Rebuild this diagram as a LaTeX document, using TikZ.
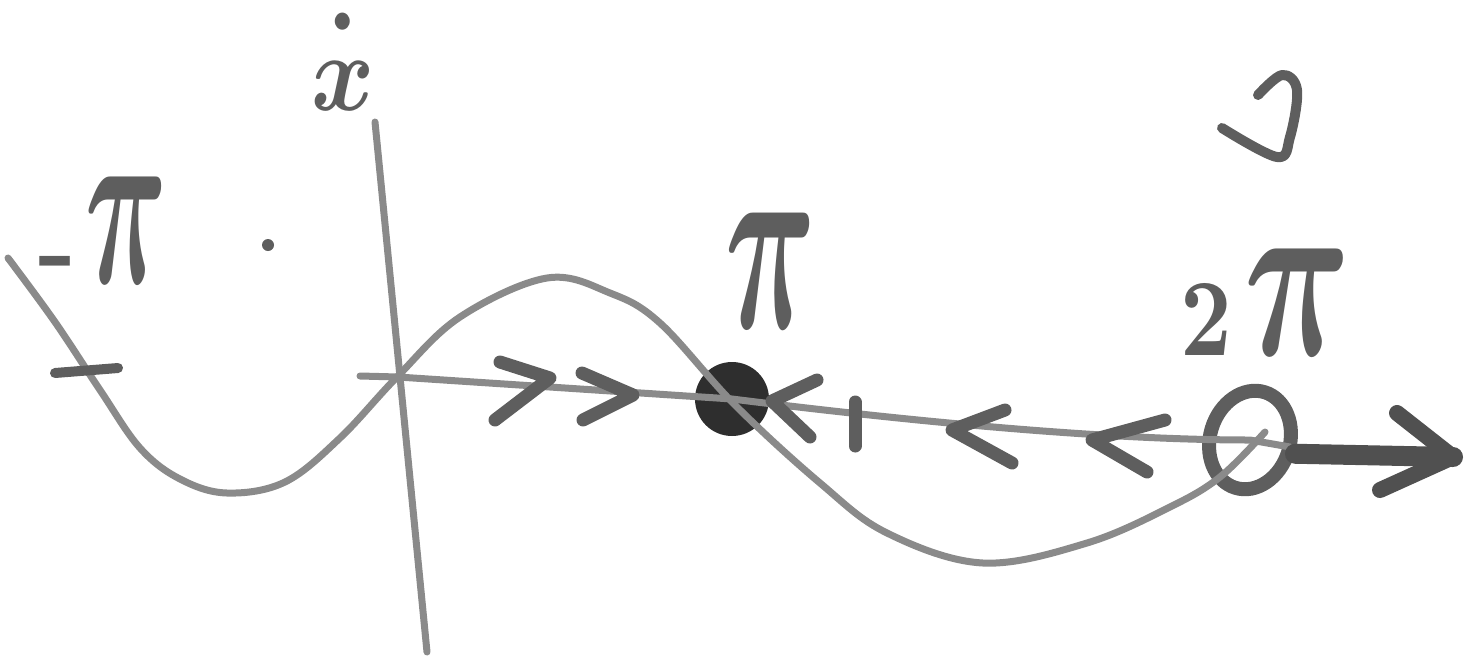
\documentclass[tikz,border=0pt]{standalone}
\usepackage{graphicx}
\usepackage{xcolor}
\usepackage{tikz}
\usetikzlibrary{shapes.geometric}
\definecolor{pencil}{HTML}{8A8A8A}
\definecolor{ink}{HTML}{5E5E5E}
\definecolor{blot}{HTML}{2E2E2E}
\tikzset{
  sketch/.style={draw=pencil, line width=3.5pt, line cap=round, line join=round},
  chevron/.style={draw=ink, line width=6.5pt, line cap=round, line join=round},
  handlabel/.style={text=ink, inner sep=0pt, anchor=base, font=\boldmath\bfseries},
  stablept/.style={circle, fill=blot, draw=none, minimum size=37pt, inner sep=0pt},
  unstablept/.style={ellipse, draw=ink, line width=7pt,
    minimum width=40pt, minimum height=50pt, inner sep=0pt},
}

\begin{document}
\begin{tikzpicture}[x=0.5pt, y=-0.5pt]
  \useasboundingbox (0,0) rectangle (1471,659);

  % Axes
  \coordinate (origin) at (398,377);
  \coordinate (axleft) at (360,376);
  \coordinate (axend) at (1290,447);
  \coordinate (ytop) at (375,122);
  \coordinate (ybot) at (427,652);
  \draw[sketch] (ytop) -- (ybot);

  % Fixed points
  \node[stablept] (stable) at (732,399) {};
  \node[unstablept, rotate=-17] (unstable) at (1250,440) {};

  \draw[sketch] (axleft) -- (origin) -- (stable.center)
    .. controls (900,420) and (1100,440) .. (unstable.center) -- (axend);

  % Curve
  \draw[sketch] plot[smooth, tension=0.6] coordinates {
    (8,258) (55,322) (100,390) (140,448) (180,479) (227,493) (285,482)
    (340,438) (397,377) (460,317) (547,278) (610,293) (660,323)
    (735,405) (820,483) (887,533) (983,563) (1087,543) (1170,507)
    (1220,477) (1265,432)};

  % Ticks
  \draw[chevron, line width=5pt] (55,373) -- (118,368);
  \draw[chevron] (855,402) -- (855,446);

  % Flow on the axis
  \draw[chevron] (500,362) -- (550,378) -- (495,420);
  \draw[chevron] (582,373) -- (633,395) -- (583,420);
  \draw[chevron] (817,380) -- (772,401) -- (810,437);
  \draw[chevron] (1005,410) -- (952,430) -- (1012,463);
  \draw[chevron] (1165,420) -- (1092,440) -- (1147,472);

  % Thick arrow out of 2pi
  \coordinate (tip) at (1453,457);
  \draw[chevron, draw=ink!85!black, line width=10pt] (unstable.east) -- (tip);
  \draw[chevron, draw=ink!85!black, line width=8pt] (1397,413) -- (tip) -- (1380,490);

  % Labels
  \node[handlabel] (lblxdot) at (343,110) {\scalebox{4.8}[5.5]{$\dot{\vphantom{t}x}$}};
  \node[handlabel] (lblnegpi) at (103,283)
    {\scalebox{5}[5]{-}\hspace{4pt}\scalebox{5.7}[12]{$\pi$}};
  \node[handlabel] (lblpi) at (771,328) {\scalebox{6.3}[13]{$\pi$}};
  \node[handlabel] (lbltwopi) at (1266,355)
    {\scalebox{4.5}[5.5]{2}\hspace{6pt}\scalebox{7.4}[12]{$\pi$}};

  % Mark above 2pi
  \draw[chevron, line width=5pt] plot[smooth, tension=0.6] coordinates {
    (1258,95) (1282,75) (1297,90) (1290,137) (1277,157) (1222,128)};

  % Stray dot
  \fill[ink] (268,245) circle (3pt);
\end{tikzpicture}
\end{document}
